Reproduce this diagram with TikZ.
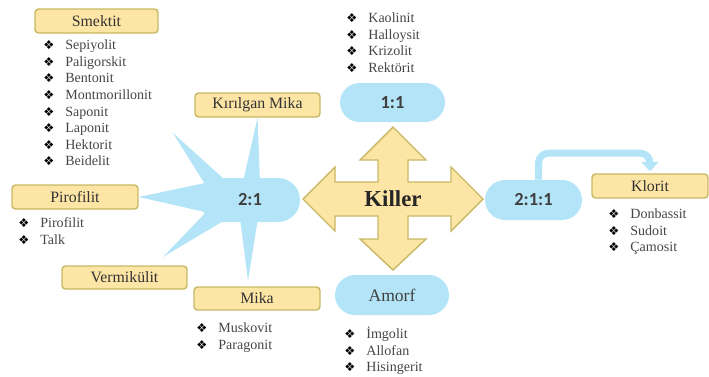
\documentclass[tikz,border=0pt]{standalone}
\usepackage{fontspec}
\setmainfont{Liberation Serif}
\newfontfamily\pillfont{Carlito}
\newfontfamily\symfont{DejaVu Sans}
\usepackage{xcolor}
\usetikzlibrary{shapes.misc, arrows.meta, positioning, calc, backgrounds}

\definecolor{boxfill}{RGB}{253,229,166}
\definecolor{boxline}{RGB}{200,184,100}
\definecolor{pillblue}{RGB}{180,228,248}
\definecolor{itemgray}{RGB}{70,70,70}

\newcommand{\itm}{\makebox[0.44cm][l]{\color{black}\symfont\fontsize{7}{7}\selectfont ❖}}

\begin{document}
\begin{tikzpicture}[x=0.02cm, y=-0.02cm,
        box/.style={draw=boxline, thick, fill=boxfill, rounded corners=2pt, minimum height=0.48cm, inner sep=0pt, text=black!80, font=\rmfamily\fontsize{9}{11}\selectfont},
        pill/.style={rounded rectangle, fill=pillblue, inner sep=0pt, text=black!75, font=\pillfont\bfseries\fontsize{10.5}{12}\selectfont},
        items/.style={anchor=north west, inner sep=0pt, align=left, text=itemgray, font=\rmfamily\fontsize{8}{9.45}\selectfont}]
        \useasboundingbox (0,0) rectangle (709,376);
        % Boxes
        \node[box, minimum width=2.46cm] (smektit) at (96.5,21) {Smektit};
        \node[box, minimum width=2.5cm] (kirilgan) at (257.5,105) {Kırılgan Mika};
        \node[box, minimum width=2.52cm] (pirofilit) at (75,197) {Pirofilit};
        \node[box, minimum width=2.5cm, minimum height=0.46cm] (vermikulit) at (124.5,277.5) {Vermikülit};
        \node[box, minimum width=2.52cm, minimum height=0.46cm] (mika) at (257,298.5) {Mika};
        \node[box, minimum width=2.32cm] (klorit) at (650,186) {Klorit};
        % Pills
        \node[pill, minimum width=2.1cm, minimum height=0.78cm] (oneone) at (392.5,102.5) {1:1};
        \node[pill, minimum width=2cm, minimum height=0.88cm] (twoone) at (250,200) {2:1};
        \node[pill, minimum width=1.94cm, minimum height=0.8cm] (twooneone) at (533.5,200) {2:1:1};
        \node[pill, minimum width=2.28cm, minimum height=0.8cm, font=\rmfamily\fontsize{10}{12}\selectfont] (amorf) at (392,295) {Amorf};
        % Free ends of the spikes
        \coordinate (smektittip) at (173,133);
        \coordinate (vermikulittip) at (163,257);
        \coordinate (mikatip) at (248,281);
        % Spikes of 2:1
        \begin{scope}[on background layer]
            \fill[pillblue] ($(twoone)+(-42,-11)$) -- (smektittip) -- ($(twoone)+(-26,-21)$) -- cycle;
            \fill[pillblue] ($(twoone)+(-7,-18)$) -- (kirilgan.south) -- ($(twoone)+(10,-18)$) -- cycle;
            \fill[pillblue] ($(twoone)+(-45,-17)$) -- (pirofilit.east) -- ($(twoone)+(-45,12)$) -- cycle;
            \fill[pillblue] ($(twoone)+(-42,10)$) -- (vermikulittip) -- ($(twoone)+(-25,20)$) -- cycle;
            \fill[pillblue] ($(twoone)+(-10,18)$) -- (mikatip) -- ($(twoone)+(8,18)$) -- cycle;
        \end{scope}
        % Killer
        \draw[draw=boxline, thick, fill=boxfill, shift={(393,199)}]
            (0,-72) -- (33,-39) -- (15,-39) -- (15,-17) -- (58,-17) -- (58,-32) -- (90,0)
            -- (58,32) -- (58,17) -- (15,17) -- (15,40) -- (33,40) -- (0,71)
            -- (-33,40) -- (-15,40) -- (-15,17) -- (-58,17) -- (-58,32) -- (-90,0)
            -- (-58,-32) -- (-58,-17) -- (-15,-17) -- (-15,-39) -- (-33,-39) -- cycle;
        \node[text=black!85, font=\rmfamily\bfseries\fontsize{13}{15}\selectfont] (killer) at (393,199) {Killer};
        % Arrow to Klorit
        \draw[pillblue, line width=0.14cm, rounded corners=0.2cm, -{Triangle[width=0.34cm, length=0.19cm]}]
            ([xshift=0.1cm]twooneone.north) -- ++(0,-26.5) -| ([yshift=0.04cm]klorit.north);
        % Lists
        \node[items] (smektitlist) at (43,39.5) {\itm Sepiyolit\\ \itm Paligorskit\\ \itm Bentonit\\ \itm Montmorillonit\\ \itm Saponit\\ \itm Laponit\\ \itm Hektorit\\ \itm Beidelit};
        \node[items] (pirofilitlist) at (18,217.5) {\itm Pirofilit\\ \itm Talk};
        \node[items] (mikalist) at (196,322.5) {\itm Muskovit\\ \itm Paragonit};
        \node[items] (oneonelist) at (346,12.5) {\itm Kaolinit\\ \itm Halloysit\\ \itm Krizolit\\ \itm Rektörit};
        \node[items] (amorflist) at (344,326.5) {\itm İmgolit\\ \itm Allofan\\ \itm Hisingerit};
        \node[items] (kloritlist) at (608,208.5) {\itm Donbassit\\ \itm Sudoit\\ \itm Çamosit};
    \end{tikzpicture}
\end{document}
